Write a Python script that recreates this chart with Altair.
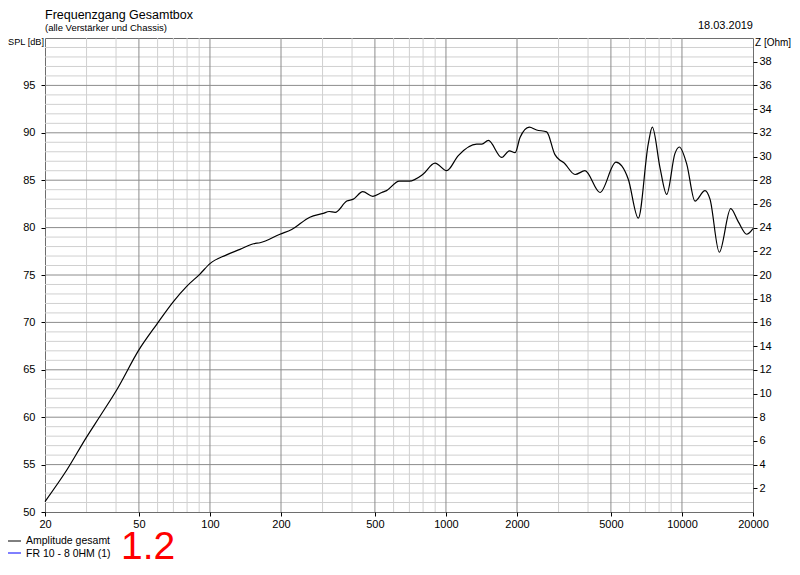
import altair as alt
import pandas as pd

# ---- data ----
freq_hz = [20, 24.7, 30, 34.2, 40.3, 50, 59.5, 70, 79.7, 90.7, 100, 117, 134, 153, 163,
           198, 222, 265, 302, 320, 339, 380, 405, 444, 490, 535, 560, 634, 700, 797,
           899, 1007, 1128, 1349, 1420, 1512, 1723, 1857, 1963, 2060, 2255, 2422, 2671,
           2896, 3041, 3141, 3525, 3882, 4495, 5251, 5557, 5923, 6531, 7196, 7489, 8073,
           8617, 9335, 9747, 10478, 11353, 12523, 13147, 14398, 16089, 17337, 18799, 20000]
spl_db = [51.1, 54.4, 57.9, 60.1, 62.9, 67.1, 69.8, 72.2, 73.8, 75.1, 76.2, 77.1, 77.7, 78.3, 78.4,
          79.3, 79.8, 81.1, 81.5, 81.7, 81.6, 82.8, 83.0, 83.8, 83.3, 83.7, 83.9, 84.9, 84.9, 85.6,
          86.8, 86.0, 87.6, 88.8, 88.8, 89.2, 87.4, 88.1, 87.9, 89.5, 90.6, 90.3, 90.1,
          87.7, 87.1, 86.9, 85.6, 86.0, 83.7, 86.9, 86.5, 85.1, 81.0, 88.8, 90.6, 86.3,
          83.5, 87.8, 88.5, 86.7, 82.8, 83.9, 83.0, 77.4, 82.0, 80.6, 79.3, 79.9]

x_labels = [20, 50, 100, 200, 500, 1000, 2000, 5000, 10000, 20000]
x_minor = [30, 40, 60, 70, 80, 90, 300, 400, 600, 700, 800, 900,
           3000, 4000, 6000, 7000, 8000, 9000]
spl_ticks = [50, 55, 60, 65, 70, 75, 80, 85, 90, 95]
spl_minor = [v for v in range(51, 100) if v % 5 != 0]
spl_major = [55, 60, 65, 70, 75, 80, 85, 90, 95]
z_ticks = list(range(2, 40, 2))

FONT = "Liberation Sans"
W, H = 708, 474

curve = pd.DataFrame({"f": freq_hz, "spl": spl_db})

xs = alt.Scale(type="log", domain=[20, 20000], nice=False)
ys = alt.Scale(domain=[50, 100], nice=False, zero=False)

x_axis = alt.Axis(values=x_labels, format="d", grid=False, domain=False, tickColor="#000",
                  tickSize=4, labelColor="#000", labelFont=FONT, labelFontSize=11,
                  labelPadding=2, title=None, labelFlush=False)
y_axis = alt.Axis(values=spl_ticks, grid=False, domain=False, tickColor="#000", tickSize=4,
                  labelColor="#000", labelFont=FONT, labelFontSize=11, labelPadding=6,
                  title=None)

minor_h = alt.Chart(pd.DataFrame({"v": spl_minor})).mark_rule(color="#d0d0d0", strokeWidth=1).encode(
    y=alt.Y("v:Q", scale=ys, axis=y_axis))
minor_v = alt.Chart(pd.DataFrame({"v": x_minor})).mark_rule(color="#d0d0d0", strokeWidth=1).encode(
    x=alt.X("v:Q", scale=xs, axis=x_axis))
major_h = alt.Chart(pd.DataFrame({"v": spl_major})).mark_rule(color="#8c8c8c", strokeWidth=1).encode(
    y=alt.Y("v:Q", scale=ys))
major_v = alt.Chart(pd.DataFrame({"v": x_labels[1:-1]})).mark_rule(color="#8c8c8c", strokeWidth=1).encode(
    x=alt.X("v:Q", scale=xs))

line = alt.Chart(curve).mark_line(color="#000000", strokeWidth=1.2, interpolate="monotone").encode(
    x=alt.X("f:Q", scale=xs, axis=x_axis),
    y=alt.Y("spl:Q", scale=ys, axis=y_axis))

z_layer = alt.Chart(pd.DataFrame({"z": z_ticks})).mark_point(opacity=0).encode(
    y=alt.Y("z:Q", scale=alt.Scale(domain=[0, 40], nice=False),
            axis=alt.Axis(orient="right", values=z_ticks, grid=False, domain=False,
                          tickColor="#000", tickSize=4, labelColor="#000", labelFont=FONT,
                          labelFontSize=11, labelPadding=2, title=None)))

def txt(s, x, y, size=11, align="left", color="#000", font=FONT):
    return alt.Chart(pd.DataFrame({"t": [s]})).mark_text(
        align=align, baseline="alphabetic", font=font, fontSize=size, color=color).encode(
        x=alt.value(x), y=alt.value(y), text="t:N")

texts = [
    txt("Frequenzgang Gesamtbox", 0, -19, 12.5),
    txt("(alle Verstärker und Chassis)", 0, -7, 9.5),
    txt("18.03.2019", W, -9, 11, align="right"),
    txt("SPL [dB]", -1, 7, 9.2, align="right"),
    txt("Z [Ohm]", 710, 8, 10),
    txt("Amplitude gesamt", -19, 506, 10.5),
    txt("FR 10 - 8 0HM (1)", -19, 519, 10.5),
    txt("1.2", 76, 521, 39, color="#ff0000"),
]
leg1 = alt.Chart(pd.DataFrame({"a": [0]})).mark_rule(color="#000", strokeWidth=1).encode(
    x=alt.value(-37), x2=alt.value(-24), y=alt.value(503))
leg2 = alt.Chart(pd.DataFrame({"a": [0]})).mark_rule(color="#0000ff", strokeWidth=1).encode(
    x=alt.value(-37), x2=alt.value(-24), y=alt.value(515))

spl_layers = alt.layer(minor_h, minor_v, major_h, major_v, line, *texts, leg1, leg2)

chart = alt.layer(spl_layers, z_layer).resolve_scale(y="independent").properties(
    width=W, height=H,
    autosize=alt.AutoSizeParams(type="none"),
    padding={"left": 37, "top": 30, "right": 39, "bottom": 55},
    background="white",
).configure_view(stroke="#6e6e6e", strokeWidth=1)

chart.save("out.html", embed_options={"renderer": "svg", "actions": False})
